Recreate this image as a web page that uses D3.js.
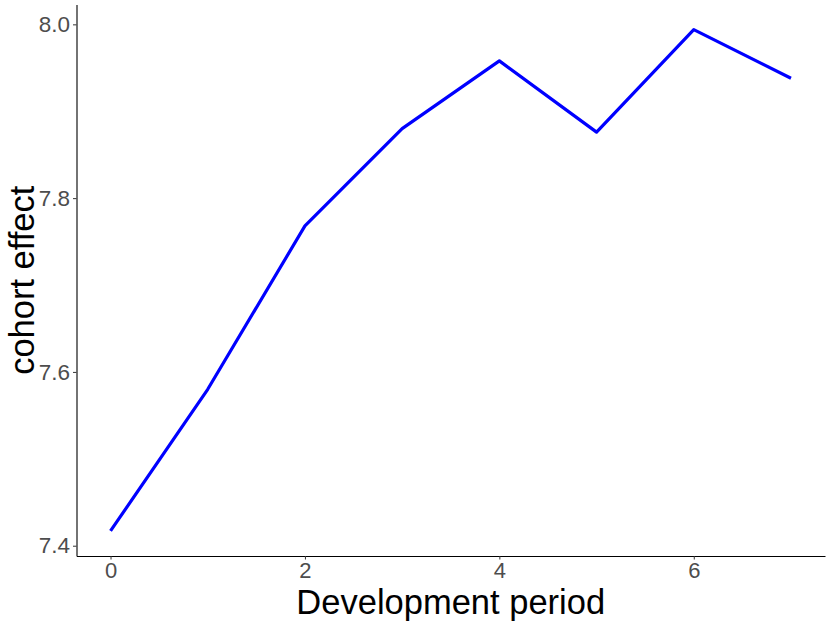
<!DOCTYPE html>
<html>
<head>
<meta charset="utf-8">
<script src="https://cdn.jsdelivr.net/npm/d3@7"></script>
<style>
  body { margin: 0; background: #fff; }
  svg { display: block; font-family: "Liberation Sans", Arial, sans-serif; }
</style>
</head>
<body>
<svg id="chart" width="830" height="623"></svg>
<script>
// development periods and the fitted cohort effect
var periods = [0, 1, 2, 3, 4, 5, 6, 7]
var cohortEffect = [7.417, 7.580, 7.768, 7.880, 7.958, 7.876, 7.994, 7.938]
var xTicks = [0, 2, 4, 6]
var yTicks = [7.4, 7.6, 7.8, 8.0]

var data = periods.map(function(p, i) { return {x: p, y: cohortEffect[i]} })

var margin = {left: 76.5, right: 5, top: 4.5, bottom: 67}
var W = 830, H = 623

var svg = d3.select("#chart")

// ggplot style 5% expansion
var xr = d3.extent(periods), xpad = (xr[1] - xr[0]) * 0.05
var yr = d3.extent(cohortEffect), ypad = (yr[1] - yr[0]) * 0.05

var x = d3.scaleLinear()
    .domain([xr[0] - xpad, xr[1] + xpad])
    .range([margin.left, W - margin.right])
var y = d3.scaleLinear()
    .domain([yr[0] - ypad, yr[1] + ypad])
    .range([H - margin.bottom, margin.top])

var line = d3.line()
    .x(function(d) { return x(d.x) })
    .y(function(d) { return y(d.y) })

svg.append("path")
    .datum(data)
    .attr("d", line)
    .attr("fill", "none")
    .attr("stroke", "#0000ff")
    .attr("stroke-width", 3.2)
    .attr("stroke-linejoin", "round")

// x axis
var gx = svg.append("g")
    .attr("transform", "translate(0," + (H - margin.bottom) + ")")
    .call(d3.axisBottom(x).tickValues(xTicks).tickFormat(d3.format("d"))
        .tickSize(3.5).tickSizeOuter(0).tickPadding(3))
gx.select(".domain").attr("stroke", "#000").attr("stroke-width", 1.1)
gx.selectAll(".tick line").attr("stroke", "#333").attr("stroke-width", 1)
gx.selectAll(".tick text")
    .attr("fill", "#4d4d4d")
    .style("font-size", "22px")

// y axis
var gy = svg.append("g")
    .attr("transform", "translate(" + margin.left + ",0)")
    .call(d3.axisLeft(y).tickValues(yTicks).tickFormat(d3.format(".1f"))
        .tickSize(3.5).tickSizeOuter(0).tickPadding(3))
gy.select(".domain").attr("stroke", "#000").attr("stroke-width", 1.1)
gy.selectAll(".tick line").attr("stroke", "#333").attr("stroke-width", 1)
gy.selectAll(".tick text")
    .attr("fill", "#4d4d4d")
    .style("font-size", "22.5px")

// titles
svg.append("text")
    .attr("x", (margin.left + W - margin.right) / 2)
    .attr("y", 613.5)
    .attr("text-anchor", "middle")
    .style("font-size", "34.5px")
    .attr("fill", "#000")
    .text("Development period")

svg.append("text")
    .attr("transform", "translate(34," + ((margin.top + H - margin.bottom) / 2) + ") rotate(-90)")
    .attr("text-anchor", "middle")
    .style("font-size", "34.5px")
    .attr("fill", "#000")
    .text("cohort effect")
</script>
</body>
</html>
